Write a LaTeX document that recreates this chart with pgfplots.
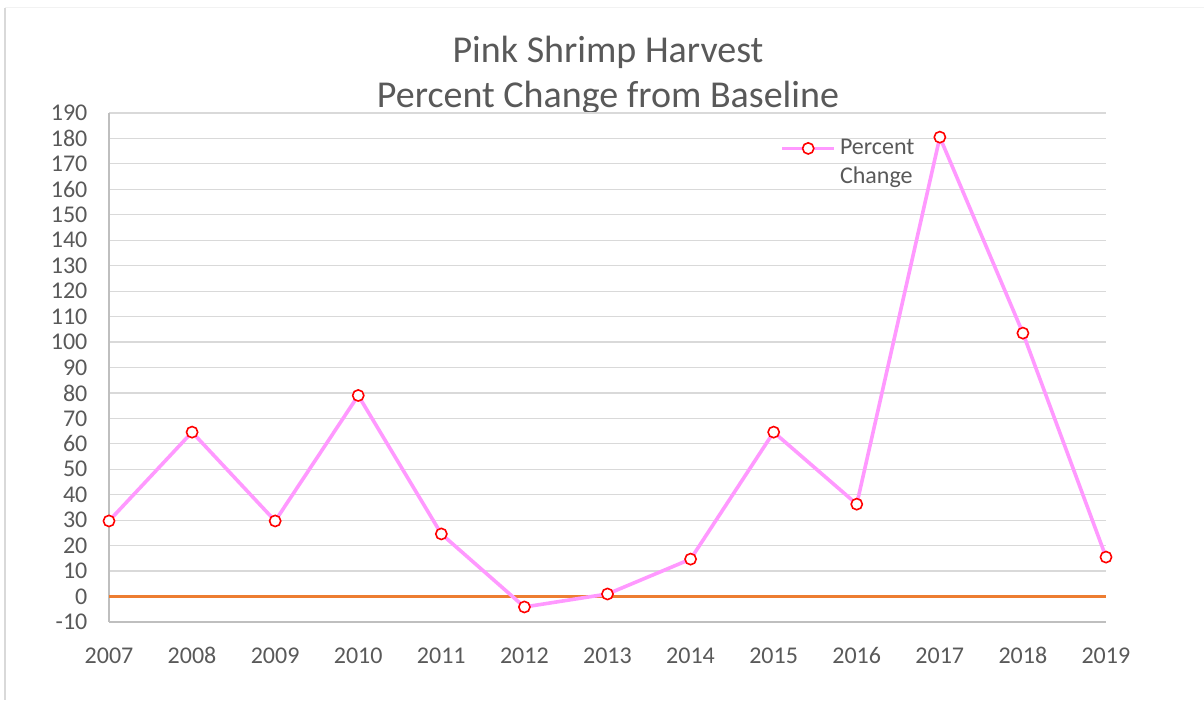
\documentclass[border=0pt]{standalone}
\usepackage{fontspec}
\setmainfont{Carlito}
\usepackage{pgfplots}
\pgfplotsset{compat=1.18}
\definecolor{txt}{HTML}{595959}
\definecolor{grid}{HTML}{D9D9D9}
\definecolor{axl}{HTML}{BFBFBF}
\definecolor{pinkl}{HTML}{FF99FF}
\definecolor{orng}{HTML}{ED7D31}
\begin{document}
\begin{tikzpicture}
\path[use as bounding box] (0,0) rectangle (602pt,352.5pt);
\draw[color=grid, line width=0.6pt] (2.5pt,2.5pt) -- (2.5pt,348.5pt);
\draw[color=black!5, line width=0.5pt] (2.5pt,348.5pt) -- (602pt,348.5pt);
\node[anchor=base, text=txt, font=\fontsize{19}{22}\selectfont] at (304pt,321pt) {Pink Shrimp Harvest};
\node[anchor=base, text=txt, font=\fontsize{19}{22}\selectfont] at (304pt,298.5pt) {Percent Change from Baseline};
\begin{axis}[
  at={(54.5pt,41.5pt)}, anchor=south west,
  scale only axis, width=498.5pt, height=254.5pt,
  xmin=2007, xmax=2019, ymin=-10, ymax=190,
  xtick={2007,...,2019}, ytick={-10,0,...,190},
  /pgf/number format/1000 sep={},
  /pgf/number format/assume math mode=true,
  major tick length=0pt,
  axis line style={draw=none},
  ymajorgrids, grid style={color=grid, line width=0.6pt},
  ticklabel style={text=txt, font=\fontsize{12}{14}\selectfont},
  yticklabel style={xshift=-7.3pt},
  xticklabel style={yshift=-9pt, text height=8.2pt, text depth=0pt},
  clip=false,
  legend image code/.code={%
    \draw[mark repeat=2,mark phase=2,#1] plot coordinates {(0pt,0pt) (13pt,0pt) (26pt,0pt)};},
  legend style={at={(0.667,0.965)}, anchor=north west, draw=none, fill=none,
    font=\fontsize{12}{14}\selectfont, text=txt, row sep=0.5pt,
    /tikz/every even column/.append style={column sep=1pt}},
  legend cell align=left,
]
\draw[color=axl, line width=0.6pt] (axis cs:2007,-10) -- (axis cs:2019,-10);
\draw[color=axl, line width=0.6pt] (axis cs:2007,-10) -- (axis cs:2007,190);
\addplot[color=orng, line width=1.7pt, forget plot] coordinates {(2007,0) (2019,0)};
\addplot[color=pinkl, line width=1.8pt, mark=*, mark size=2.8pt,
  mark options={draw=red, fill=white, line width=0.8pt}] coordinates {
(2007,29.7) (2008,64.6) (2009,29.7) (2010,79.0) (2011,24.6) (2012,-4.1)
(2013,1.0) (2014,14.7) (2015,64.6) (2016,36.3) (2017,180.5) (2018,103.5) (2019,15.5)};
\addlegendentry{Percent}
\addlegendimage{empty legend}
\addlegendentry{Change}
\end{axis}
\end{tikzpicture}
\end{document}
